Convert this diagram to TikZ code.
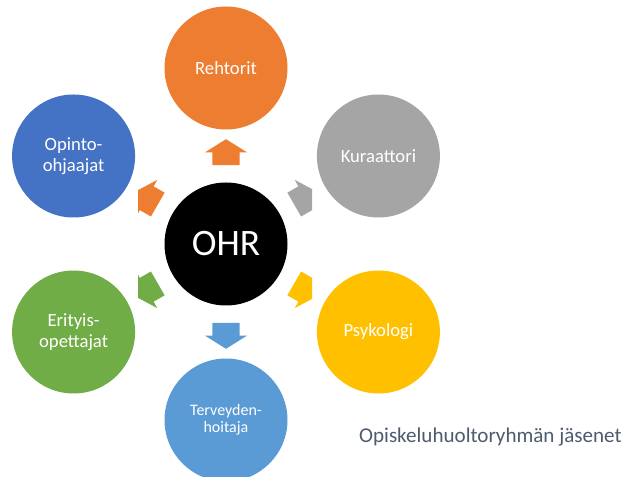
\documentclass[tikz,border=0pt]{standalone}
\usepackage{fontspec}
\setmainfont{Carlito}
\usetikzlibrary{shapes.arrows}
\definecolor{ohrorange}{HTML}{ED7D31}
\definecolor{ohrgray}{HTML}{A5A5A5}
\definecolor{ohryellow}{HTML}{FFC000}
\definecolor{ohrblue}{HTML}{5B9BD5}
\definecolor{ohrgreen}{HTML}{70AD47}
\definecolor{ohrdarkblue}{HTML}{4472C4}
\definecolor{captiongray}{HTML}{4E5B6F}
\tikzstyle{hub}=[circle,fill=black,text=white,inner sep=0pt,
                 minimum size=92.25pt,font=\fontsize{28}{30}\selectfont]
\tikzstyle{member}=[circle,text=white,inner sep=0pt,align=center,
                    minimum size=92.25pt,font=\fontsize{14}{15.5}\selectfont]
\tikzstyle{outarrow}=[single arrow,inner xsep=0pt,inner ysep=10.1pt,
                      minimum height=19.5pt,single arrow head extend=5.6pt,
                      single arrow tip angle=116]

\begin{document}
\begin{tikzpicture}[x=0.75pt,y=0.75pt]
    \newcommand{\orbit}{176}
    \newcommand{\armdist}{87.5}
    \useasboundingbox (-226,-233) rectangle (397,244);
    \node (ohr) at (0,0) [hub]{OHR};
    \node (rehtorit) at (90:\orbit) [member,fill=ohrorange]{Rehtorit};
    \node (kuraattori) at (30:\orbit) [member,fill=ohrgray]{Kuraattori};
    \node (psykologi) at (-30:\orbit) [member,fill=ohryellow]{Psykologi};
    \node (thoitaja) at (-90:\orbit) [member,fill=ohrblue,
          font=\fontsize{12}{13}\selectfont]{Terveyden-\\hoitaja};
    \node (erityis) at (210:\orbit) [member,fill=ohrgreen]{Erityis-\\opettajat};
    \node (opo) at (150:\orbit) [member,fill=ohrdarkblue]{Opinto-\\ohjaajat};
    \begin{scope}
      \clip (-88,-120) rectangle (86,120);
      \node (a1) at (90:\armdist) [outarrow,rotate=90,fill=ohrorange]{};
      \node (a2) at (30:\armdist) [outarrow,rotate=30,fill=ohrgray]{};
      \node (a3) at (-30:\armdist) [outarrow,rotate=-30,fill=ohryellow]{};
      \node (a4) at (-90:\armdist) [outarrow,rotate=-90,fill=ohrblue]{};
      \node (a5) at (210:\armdist) [outarrow,rotate=210,fill=ohrgreen]{};
      \node (a6) at (150:\armdist) [outarrow,rotate=150,fill=ohrorange]{};
    \end{scope}
    \node (caption) at (396,-193) [anchor=east,inner sep=0pt,text=captiongray,
          font=\fontsize{15.8}{17}\selectfont]{Opiskeluhuoltoryhmän jäsenet};
  \end{tikzpicture}
\end{document}
